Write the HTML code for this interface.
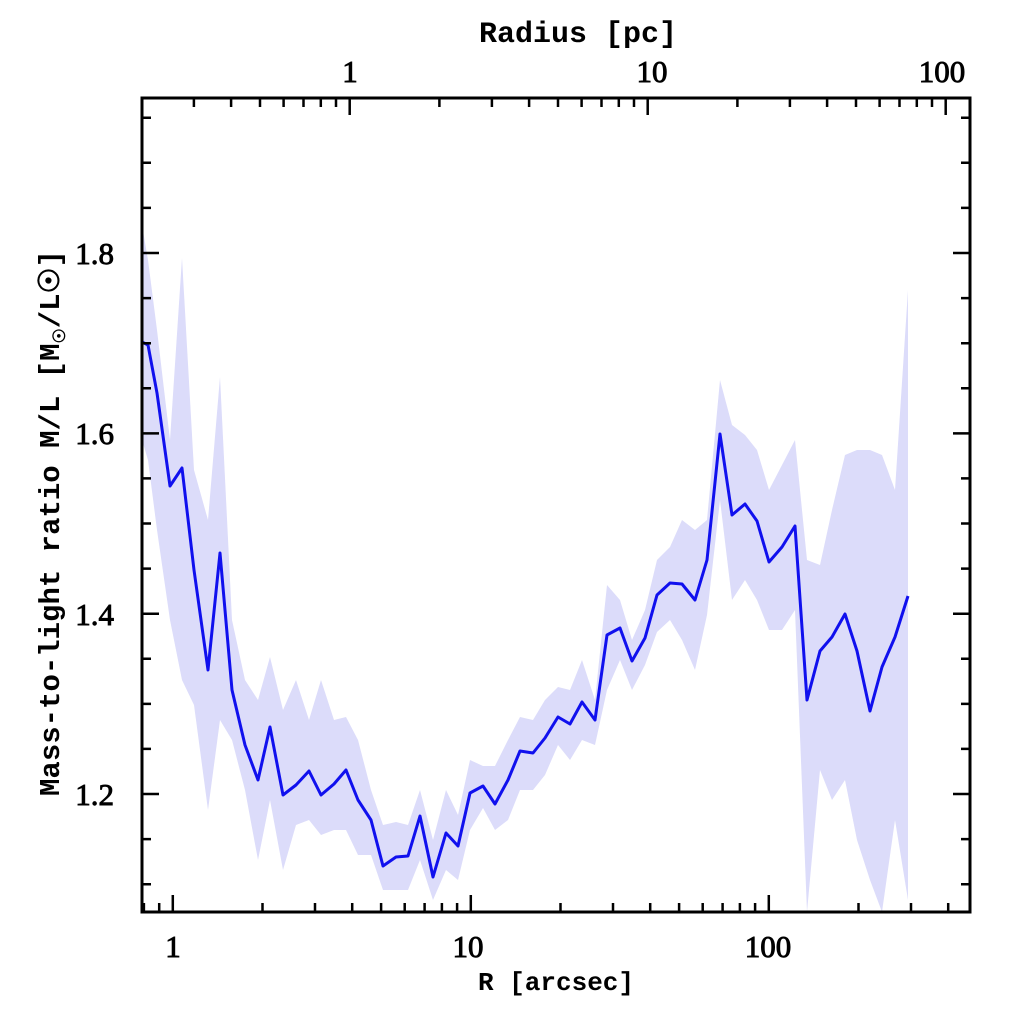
<!DOCTYPE html><html><head><style>body{margin:0;background:#fff}</style></head><body>
<svg width="1024" height="1024" viewBox="0 0 1024 1024" xmlns="http://www.w3.org/2000/svg" font-family="Liberation Mono, monospace" font-weight="bold">
<defs><clipPath id="c"><rect x="142" y="98" width="828" height="814"/></clipPath></defs>
<g clip-path="url(#c)">
<polygon fill="#dcdcfa" points="142,225 148,260 157,330 170,440 182,258 194,470 208,520 220,377 232,620 245,680 258,700 270,657 283,710 296,680 309,720 321,680 334,720 346,717 358,740 371,790 383,825 396,822 408,825 420,790 433,840 446,790 458,815 470,760 483,766 495,766 508,740 520,717 533,720 545,700 558,687 570,690 582,660 595,700 607,585 620,600 632,640 645,610 657,560 670,547 682,520 695,530 707,520 720,380 732,425 745,435 757,450 769,490 782,465 795,440 807,560 820,565 832,510 845,455 857,450 870,450 882,455 895,490 908,290 908,900 895,820 882,912 870,880 857,840 845,780 832,800 820,770 807,912 795,610 782,630 769,630 757,600 745,580 732,600 720,500 707,615 695,670 682,640 670,620 657,632 645,665 632,690 620,660 607,690 595,745 582,740 570,760 558,745 545,775 533,790 520,790 508,820 495,830 483,808 470,830 458,880 446,870 433,900 420,860 408,890 396,890 383,890 371,855 358,855 346,830 334,830 321,835 309,820 296,825 283,870 270,800 258,860 245,790 232,740 220,720 208,810 194,705 182,680 170,620 157,530 148,460 142,440"/>
<polyline fill="none" stroke="#1010ee" stroke-width="3" stroke-linejoin="round" points="142,342 148,345 157,393 170,486 182,468 194,570 208,670 220,553 232,690 245,745 258,780 270,727 283,795 296,785 309,771 321,795 334,784 346,770 358,800 371,820 383,866 396,857 408,856 420,816 433,877 446,833 458,846 470,793 483,786 495,804 508,780 520,751 533,753 545,738 558,717 570,724 582,702 595,720 607,635 620,628 632,661 645,638 657,595 670,583 682,584 695,600 707,560 720,434 732,515 745,504 757,521 769,562 782,547 795,526 807,700 820,651 832,637 845,614 857,651 870,711 882,667 895,637 908,596"/>
</g>
<rect x="142" y="98" width="828" height="814" fill="none" stroke="#000" stroke-width="3"/>
<path stroke="#000" stroke-width="2.5" fill="none" d="
M172.8,912v-17 M470.8,912v-17 M768.8,912v-17
M143.9,912v-9 M159.2,912v-9 M262.5,912v-9 M315,912v-9 M352.2,912v-9 M381.1,912v-9 M404.7,912v-9 M424.6,912v-9 M441.9,912v-9 M457.1,912v-9
M560.5,912v-9 M613,912v-9 M650.2,912v-9 M679.1,912v-9 M702.7,912v-9 M722.6,912v-9 M739.9,912v-9 M755.1,912v-9
M858.5,912v-9 M911,912v-9 M948.2,912v-9
M349.7,98v17 M647.7,98v17 M945.7,98v17
M193.9,98v9 M231.1,98v9 M260,98v9 M283.6,98v9 M303.5,98v9 M320.8,98v9 M336,98v9
M439.4,98v9 M491.9,98v9 M529.1,98v9 M558,98v9 M581.6,98v9 M601.5,98v9 M618.8,98v9 M634,98v9
M737.4,98v9 M789.9,98v9 M827.1,98v9 M856,98v9 M879.6,98v9 M899.5,98v9 M916.8,98v9 M932,98v9
M142,794h17 M142,613.7h17 M142,433.4h17 M142,253h17
M970,794h-17 M970,613.7h-17 M970,433.4h-17 M970,253h-17
M142,884.2h9 M142,839.1h9 M142,748.9h9 M142,703.9h9 M142,658.8h9 M142,568.6h9 M142,523.5h9 M142,478.4h9 M142,388.3h9 M142,343.2h9 M142,298.1h9 M142,207.9h9 M142,162.8h9 M142,117.8h9
M970,884.2h-9 M970,839.1h-9 M970,748.9h-9 M970,703.9h-9 M970,658.8h-9 M970,568.6h-9 M970,523.5h-9 M970,478.4h-9 M970,388.3h-9 M970,343.2h-9 M970,298.1h-9 M970,207.9h-9 M970,162.8h-9 M970,117.8h-9"/>
<g font-size="31" font-family="Liberation Serif, serif" font-weight="normal" text-anchor="middle" fill="#000" stroke="#000" stroke-width="0.9">
<text x="173" y="957">1</text><text x="468" y="957">10</text><text x="768" y="957">100</text>
<text x="350" y="82">1</text><text x="652" y="82">10</text><text x="942" y="82">100</text>
<text x="114" y="264" text-anchor="end">1.8</text><text x="114" y="444" text-anchor="end">1.6</text>
<text x="114" y="625" text-anchor="end">1.4</text><text x="114" y="805" text-anchor="end">1.2</text>
</g>
<text x="556" y="990" font-size="26" text-anchor="middle">R [arcsec]</text>
<text x="578" y="42" font-size="30" text-anchor="middle">Radius [pc]</text>
<text transform="translate(59,523) rotate(-90)" font-size="29" text-anchor="middle">Mass-to-light ratio M/L [M<tspan font-size="17" dy="6">☉</tspan><tspan dy="-6">/L☉]</tspan></text>
</svg></body></html>
